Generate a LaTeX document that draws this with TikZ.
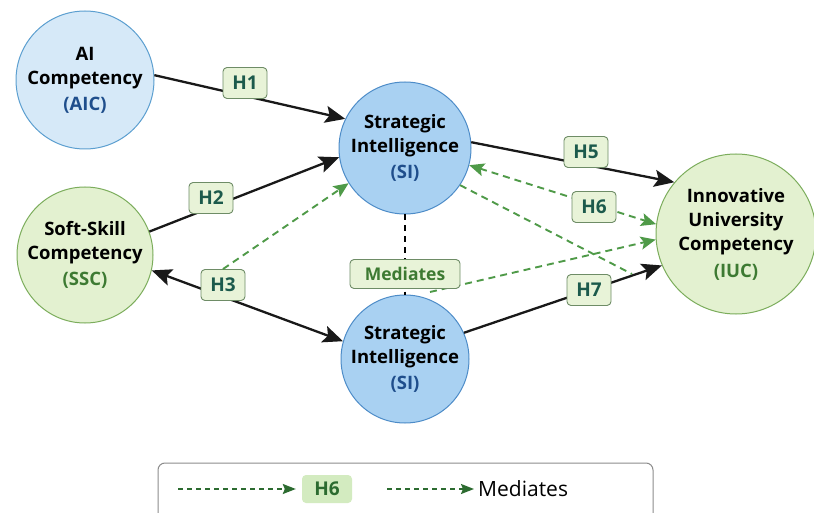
\documentclass[tikz,border=0pt]{standalone}
\usepackage{fontspec}
\setmainfont{Open Sans}
\usetikzlibrary{arrows.meta}

\definecolor{aicfill}{HTML}{D6E9F8}
\definecolor{aicline}{HTML}{5C9FD0}
\definecolor{sifill}{HTML}{A9D1F2}
\definecolor{siline}{HTML}{4D8CC8}
\definecolor{grnfill}{HTML}{E3F1D0}
\definecolor{grnline}{HTML}{7CAD5C}
\definecolor{bluetext}{HTML}{1F4E8C}
\definecolor{grntext}{HTML}{3D7A32}
\definecolor{hypfill}{HTML}{E8F3D8}
\definecolor{hypline}{HTML}{6E8C66}
\definecolor{hyptext}{HTML}{1C5A4C}
\definecolor{medgreen}{HTML}{4F9A48}
\definecolor{darkgreen}{HTML}{2C6B30}
\definecolor{legfill}{HTML}{D3EBC0}

\begin{document}
\begin{tikzpicture}[x=1pt,y=-1pt,
    concept/.style={circle, draw, line width=1pt, minimum size=#1, inner sep=0pt, align=center,
        font=\fontsize{18.5}{24}\selectfont\bfseries},
    hyp/.style={draw=hypline, fill=hypfill, rounded corners=4pt, line width=0.9pt, minimum width=44pt,
        minimum height=31pt, inner sep=0pt, text=hyptext, font=\fontsize{19}{19}\selectfont\bfseries},
    direct/.style={line width=2.3pt, black!90, -{Stealth[length=20pt,width=17pt,inset=4pt]}},
    bothdirect/.style={direct, {Stealth[length=20pt,width=17pt,inset=4pt]}-{Stealth[length=20pt,width=17pt,inset=4pt]}},
    mediated/.style={line width=1.9pt, medgreen, dash pattern=on 7pt off 5pt,
        -{Stealth[length=15pt,width=13pt,inset=3pt]}},
    bothmediated/.style={mediated, {Stealth[length=15pt,width=13pt,inset=3pt]}-{Stealth[length=15pt,width=13pt,inset=3pt]}},
    legarrow/.style={line width=1.6pt, darkgreen, dash pattern=on 5pt off 4pt,
        -{Stealth[length=13pt,width=10pt,inset=2pt]}}]
    \clip (0,0) rectangle (814,513);
    \fill[white] (0,0) rectangle (814,513);

    \node[concept=138, fill=aicfill, draw=aicline] (aic) at (85,80)
        {AI\\Competency\\[2pt]\textcolor{bluetext}{(AIC)}};
    \node[concept=136, fill=grnfill, draw=grnline] (ssc) at (85,255)
        {Soft-Skill\\Competency\\[2pt]\textcolor{grntext}{(SSC)}};
    \node[concept=132, fill=sifill, draw=siline] (si1) at (405,148)
        {Strategic\\Intelligence\\[2pt]\textcolor{bluetext}{(SI)}};
    \node[concept=128, fill=sifill, draw=siline] (si2) at (405,359)
        {Strategic\\Intelligence\\[2pt]\textcolor{bluetext}{(SI)}};
    \node[concept=160, fill=grnfill, draw=grnline] (iuc) at (736,234)
        {Innovative\\University\\Competency\\[3pt]\textcolor{grntext}{(IUC)}};

    \draw[direct] (aic.4) -- (si1.154);
    \draw[direct] (ssc.20) -- (si1.188);
    \draw[bothdirect] (ssc.347) -- (si2.164);
    \draw[direct] (si1.5) -- (iuc.140);
    \draw[direct] (si2.24) -- (iuc.203);
    \draw[line width=1.6pt, dash pattern=on 6pt off 5pt] (si1) -- (si2);
    \coordinate (crossend) at (632,274);
    \draw[mediated, -] (si1.326) -- (crossend);
    \draw[bothmediated] (si1.345) -- (iuc.173);
    \coordinate (medstart) at (430,292);
    \draw[mediated] (medstart) -- (iuc.184);

    \node[hyp] (h1) at (245,83) {H1};
    \node[hyp] (h2) at (211,198) {H2};
    \node[hyp] (h3) at (223,285) {H3};
    \node[hyp] (h5) at (586,152) {H5};
    \node[hyp] (h6) at (594,207) {H6};
    \node[hyp] (h7) at (589,290) {H7};
    \node[hyp, minimum width=110pt, minimum height=29pt, text=grntext,
        font=\fontsize{17.5}{17.5}\selectfont\bfseries] (med) at (405,274) {Mediates};
    \draw[mediated] (h3.north) -- (si1.212);

    \draw[rounded corners=7pt, draw=black!45, line width=1pt] (158,463) rectangle (653,540);
    \node[fill=legfill, rounded corners=4pt, minimum width=50pt, minimum height=28pt, inner sep=0pt,
        text=darkgreen, font=\fontsize{19}{19}\selectfont\bfseries] (legh6) at (327,489) {H6};
    \node[font=\fontsize{21}{21}\selectfont, anchor=west, inner sep=0pt] (legmed) at (478,489) {Mediates};
    \coordinate (legstart1) at (178,489);
    \coordinate (legstart2) at (387,489);
    \draw[legarrow, shorten >=6pt] (legstart1) -- (legh6.west);
    \draw[legarrow, shorten >=4pt] (legstart2) -- (legmed.west);
\end{tikzpicture}
\end{document}
